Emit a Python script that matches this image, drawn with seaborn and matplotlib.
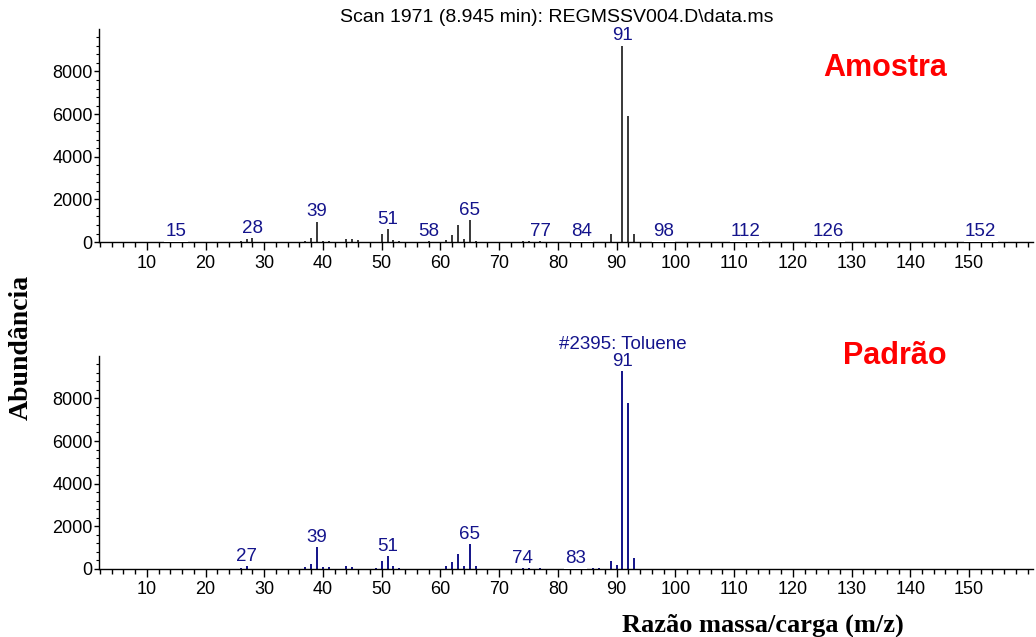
import matplotlib
matplotlib.use("Agg")
import matplotlib.pyplot as plt
import seaborn as sns
import pandas as pd

# Amostra (sample) spectrum, scan 1971
amostra_mz = [15, 26, 27, 28, 37, 38, 39, 40, 41, 44, 45, 46, 50, 51, 52, 53, 58,
              61, 62, 63, 64, 65, 66, 74, 75, 77, 84, 89, 91, 92, 93, 98, 112, 126, 152]
amostra_ab = [20, 60, 160, 190, 70, 200, 950, 60, 50, 140, 140, 80, 390, 610, 110, 40, 30,
              110, 330, 800, 160, 1030, 60, 30, 30, 40, 20, 390, 9200, 5930, 390, 20, 15, 15, 15]
amostra_labels = [15, 28, 39, 51, 58, 65, 77, 84, 91, 98, 112, 126, 152]

# Padrao (library) spectrum, #2395 Toluene
padrao_mz = [26, 27, 37, 38, 39, 40, 41, 44, 45, 49, 50, 51, 52, 53, 61, 62, 63, 64,
             65, 66, 74, 75, 77, 83, 86, 87, 89, 90, 91, 92, 93]
padrao_ab = [50, 140, 110, 235, 1030, 110, 110, 125, 95, 50, 380, 610, 140, 50, 140, 340,
             720, 140, 1170, 125, 40, 40, 50, 15, 30, 30, 380, 190, 9270, 7800, 520]
padrao_labels = [27, 39, 51, 65, 74, 83, 91]

y_ticks = [0, 2000, 4000, 6000, 8000]
x_ticks = list(range(10, 160, 10))

sns.set_style("ticks", {"text.color": "black", "xtick.color": "black",
                        "ytick.color": "black", "axes.edgecolor": "black"})
plt.rcParams["font.family"] = ["Liberation Sans", "DejaVu Sans"]

fig = plt.figure(figsize=(10.36, 6.37), dpi=100)
ax1 = fig.add_axes([0.0956, 0.620, 0.9015, 0.3348])
ax2 = fig.add_axes([0.0956, 0.1068, 0.9015, 0.3348])

label_color = "#14148c"


def draw_spectrum(ax, mz, ab, labels, color):
    df = pd.DataFrame({"mz": mz, "ab": ab})
    ax.vlines(df["mz"], 0, df["ab"], colors=color, linewidth=1.3)
    lookup = dict(zip(mz, ab))
    for m in labels:
        ax.annotate(str(m), (m, lookup[m]), xytext=(0, 1), textcoords="offset points",
                    ha="center", va="bottom", fontsize=13.5, color=label_color,
                    bbox=dict(facecolor="white", edgecolor="none", pad=1.0),
                    annotation_clip=False, zorder=4)
    ax.set_xlim(1.87, 160.9)
    ax.set_ylim(0, 10000)
    ax.set_xticks(x_ticks)
    ax.set_xticks(range(2, 162, 2), minor=True)
    ax.set_yticks(y_ticks)
    ax.set_yticks(range(0, 10000, 400), minor=True)
    ax.tick_params(axis="x", which="major", length=6, width=1, labelsize=13, pad=3,
                   labelcolor="black")
    ax.tick_params(axis="x", which="minor", length=3.5, width=1)
    ax.tick_params(axis="y", which="major", length=3.5, width=1, labelsize=13, pad=1,
                   labelcolor="black")
    ax.tick_params(axis="y", which="minor", length=2, width=0.8)
    sns.despine(ax=ax)
    for s in ("left", "bottom"):
        ax.spines[s].set_linewidth(1)
        ax.spines[s].set_color("black")


draw_spectrum(ax1, amostra_mz, amostra_ab, amostra_labels, "#2a2a2a")
draw_spectrum(ax2, padrao_mz, padrao_ab, padrao_labels, "#00007f")

fig.text(557 / 1036, 1 - 18 / 637, r"Scan 1971 (8.945 min): REGMSSV004.D\data.ms",
         ha="center", va="center", fontsize=14, color="black")
ax2.annotate("#2395: Toluene", (91, 9270), xytext=(0, 13), textcoords="offset points",
             ha="center", va="bottom", fontsize=13.5, color=label_color,
             annotation_clip=False)

fig.text(885 / 1036, 1 - 68 / 637, "Amostra", ha="center", va="center",
         fontsize=22, fontweight="bold", color="red")
fig.text(895 / 1036, 1 - 356 / 637, "Padrão", ha="center", va="center",
         fontsize=22, fontweight="bold", color="red")

fig.text(21 / 1036, 1 - 347 / 637, "Abundância", rotation=90, ha="center", va="center",
         fontsize=20, fontweight="bold", family="Liberation Serif")
fig.text(763 / 1036, 1 - 625 / 637, "Razão massa/carga (m/z)", ha="center", va="center",
         fontsize=19, fontweight="bold", family="Liberation Serif")

fig.savefig("out.png", dpi=100)
